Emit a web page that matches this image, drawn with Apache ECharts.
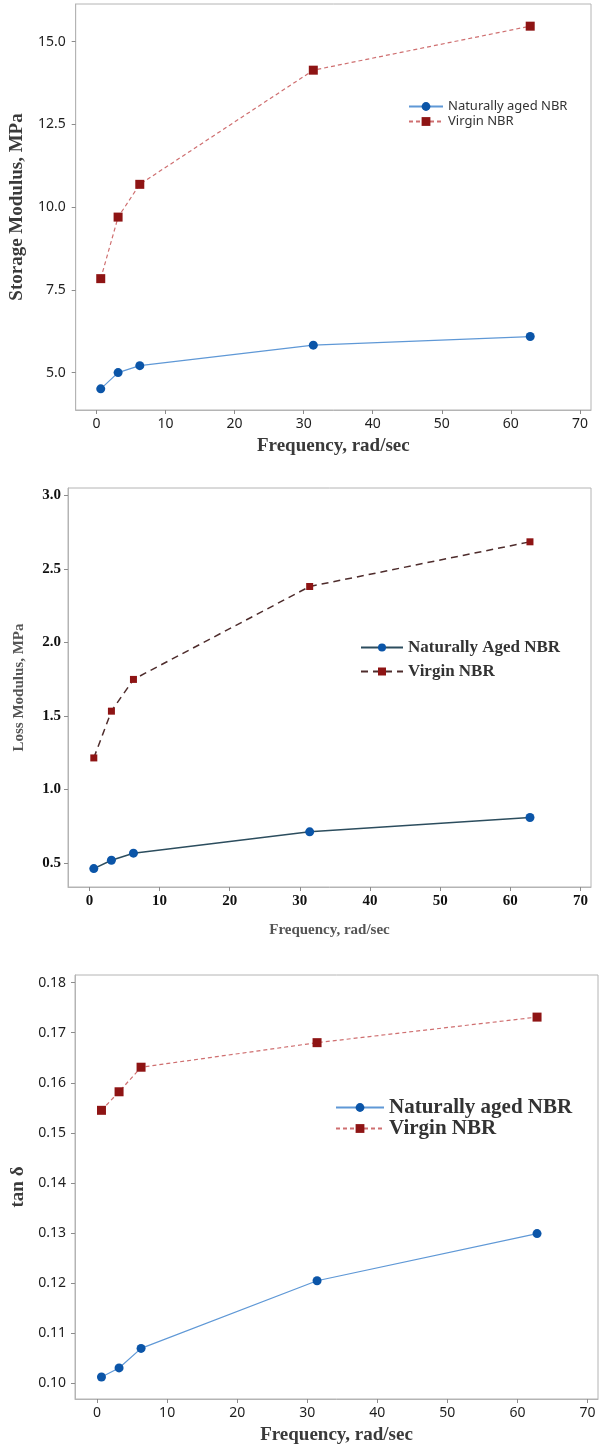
<!DOCTYPE html>
<html>
<head>
<meta charset="utf-8">
<script src="https://cdn.jsdelivr.net/npm/echarts@6/dist/echarts.min.js"></script>
<style>
  html, body { margin: 0; padding: 0; background: #fff; }
</style>
</head>
<body>
<div id="main" style="width:603px;height:1448px;"></div>
<script>
// frequencies, rad/sec
const freq = [0.628, 3.14, 6.28, 31.4, 62.8];

// storage modulus, MPa
const storageAged = [4.51, 5.0, 5.21, 5.83, 6.09];
const storageVirgin = [7.84, 9.70, 10.69, 14.14, 15.47];

// loss modulus, MPa
const lossAged = [0.461, 0.518, 0.566, 0.711, 0.809];
const lossVirgin = [1.214, 1.532, 1.748, 2.38, 2.684];

// tan delta
const tanAged = [0.1013, 0.1031, 0.1070, 0.1205, 0.1299];
const tanVirgin = [0.1545, 0.1582, 0.1631, 0.1680, 0.1731];

// tick labels
const xTicks = [0, 10, 20, 30, 40, 50, 60, 70];
const storageTicks = [5.0, 7.5, 10.0, 12.5, 15.0];
const lossTicks = [0.5, 1.0, 1.5, 2.0, 2.5, 3.0];
const tanTicks = [0.10, 0.11, 0.12, 0.13, 0.14, 0.15, 0.16, 0.17, 0.18];

const pair = (ys) => freq.map((f, i) => [f, ys[i]]);

const sans = '"Noto Sans", sans-serif';
const serif = '"Liberation Serif", "DejaVu Serif", serif';

// axis helpers
const xAxisOf = (idx, min, max, labelFont, nameFont, nameGap, labelColor) => ({
    type: 'value',
    gridIndex: idx,
    min: min,
    max: max,
    name: 'Frequency, rad/sec',
    nameLocation: 'middle',
    nameGap: nameGap,
    nameTextStyle: nameFont,
    splitLine: { show: false },
    axisLine: { show: true, onZero: false, lineStyle: { color: '#b4b4b4' } },
    axisTick: { show: true, inside: false, length: 4, customValues: xTicks, lineStyle: { color: '#8c8c8c' } },
    axisLabel: Object.assign({ customValues: xTicks, margin: 7, color: labelColor }, labelFont)
});

const yAxisOf = (idx, min, max, ticks, digits, name, labelFont, nameFont, nameGap, margin, labelColor) => ({
    type: 'value',
    gridIndex: idx,
    min: min,
    max: max,
    name: name,
    nameLocation: 'middle',
    nameGap: nameGap,
    nameTextStyle: nameFont,
    splitLine: { show: false },
    axisLine: { show: true, onZero: false, lineStyle: { color: '#b4b4b4' } },
    axisTick: { show: true, inside: false, length: 4, customValues: ticks, lineStyle: { color: '#8c8c8c' } },
    axisLabel: Object.assign({
        customValues: ticks,
        margin: margin,
        color: labelColor,
        formatter: (v) => Number(v).toFixed(digits)
    }, labelFont)
});

const option = {
    backgroundColor: '#fff',
    animation: false,
    grid: [
        { left: 74, top: 4, width: 517, height: 406, show: true, borderColor: '#b4b4b4', borderWidth: 1 },
        { left: 68, top: 488, width: 523, height: 399, show: true, borderColor: '#b4b4b4', borderWidth: 1 },
        { left: 75, top: 975, width: 523, height: 424, show: true, borderColor: '#b4b4b4', borderWidth: 1 }
    ],
    xAxis: [
        xAxisOf(0, -3.0, 71.6,
            { fontFamily: sans, fontSize: 14 },
            { fontFamily: serif, fontSize: 19, fontWeight: 'bold', color: '#3a3a3a' }, 27, '#1e1e1e'),
        xAxisOf(1, -3.05, 71.5,
            { fontFamily: serif, fontSize: 15, fontWeight: 'bold' },
            { fontFamily: serif, fontSize: 15, fontWeight: 'bold', color: '#555' }, 36, '#111'),
        xAxisOf(2, -3.15, 71.5,
            { fontFamily: sans, fontSize: 14 },
            { fontFamily: serif, fontSize: 19, fontWeight: 'bold', color: '#3a3a3a' }, 27, '#1e1e1e')
    ],
    yAxis: [
        yAxisOf(0, 3.87, 16.14, storageTicks, 1, 'Storage Modulus, MPa',
            { fontFamily: sans, fontSize: 14 },
            { fontFamily: serif, fontSize: 19, fontWeight: 'bold', color: '#3a3a3a' }, 43, 10, '#1e1e1e'),
        yAxisOf(1, 0.336, 3.05, lossTicks, 1, 'Loss Modulus, MPa',
            { fontFamily: serif, fontSize: 15, fontWeight: 'bold' },
            { fontFamily: serif, fontSize: 15, fontWeight: 'bold', color: '#555' }, 41, 7, '#111'),
        yAxisOf(2, 0.0969, 0.1815, tanTicks, 2, 'tan δ',
            { fontFamily: sans, fontSize: 14 },
            { fontFamily: serif, fontSize: 19, fontWeight: 'bold', color: '#3a3a3a' }, 45, 9, '#1e1e1e')
    ],
    legend: [
        {
            orient: 'vertical', left: 403, top: 95,
            itemWidth: 34, itemHeight: 11, itemGap: 2,
            data: ['Naturally aged NBR', 'Virgin NBR'],
            textStyle: { fontFamily: sans, fontSize: 13, color: '#333' }
        },
        {
            orient: 'vertical', left: 355, top: 634,
            itemWidth: 42, itemHeight: 10, itemGap: 7,
            data: ['Naturally Aged NBR', 'Virgin NBR '],
            textStyle: { fontFamily: serif, fontSize: 17, fontWeight: 'bold', color: '#333' }
        },
        {
            orient: 'vertical', left: 330, top: 1092,
            itemWidth: 48, itemHeight: 11, itemGap: 0,
            data: ['Naturally aged NBR', 'Virgin NBR'],
            textStyle: { fontFamily: serif, fontSize: 21, fontWeight: 'bold', color: '#333' }
        }
    ],
    series: [
        {
            name: 'Naturally aged NBR', type: 'line', xAxisIndex: 0, yAxisIndex: 0,
            data: pair(storageAged), symbol: 'circle', symbolSize: 9,
            itemStyle: { color: '#0b55a8' }, lineStyle: { color: '#5f98d6', width: 1.2 }
        },
        {
            name: 'Virgin NBR', type: 'line', xAxisIndex: 0, yAxisIndex: 0,
            data: pair(storageVirgin), symbol: 'rect', symbolSize: 9,
            itemStyle: { color: '#8e1414' }, lineStyle: { color: '#cf6f70', width: 1.2, type: [4, 3] }
        },
        {
            name: 'Naturally Aged NBR', type: 'line', xAxisIndex: 1, yAxisIndex: 1,
            data: pair(lossAged), symbol: 'circle', symbolSize: 9,
            itemStyle: { color: '#0b55a8' }, lineStyle: { color: '#2c4d5e', width: 1.5 }
        },
        {
            name: 'Virgin NBR ', type: 'line', xAxisIndex: 1, yAxisIndex: 1,
            data: pair(lossVirgin), symbol: 'rect', symbolSize: 7,
            itemStyle: { color: '#8e1414' }, lineStyle: { color: '#4e2c2c', width: 1.5, type: [7, 5] }
        },
        {
            name: 'Naturally aged NBR', type: 'line', xAxisIndex: 2, yAxisIndex: 2,
            data: pair(tanAged), symbol: 'circle', symbolSize: 9,
            itemStyle: { color: '#0b55a8' }, lineStyle: { color: '#5f98d6', width: 1.2 }
        },
        {
            name: 'Virgin NBR', type: 'line', xAxisIndex: 2, yAxisIndex: 2,
            data: pair(tanVirgin), symbol: 'rect', symbolSize: 9,
            itemStyle: { color: '#8e1414' }, lineStyle: { color: '#cf6f70', width: 1.2, type: [4, 3] }
        }
    ]
};

const myChart = echarts.init(document.getElementById('main'));
myChart.setOption(option);
</script>
</body>
</html>
